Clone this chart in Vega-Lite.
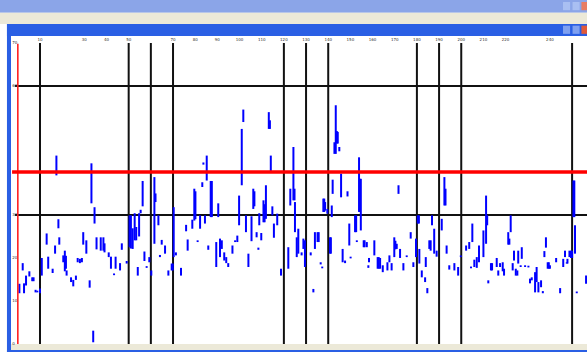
{
  "$schema": "https://vega.github.io/schema/vega-lite/v6.json",
  "width": 576,
  "height": 308,
  "autosize": {"type": "none"},
  "padding": {"left": 11, "top": 36, "right": 0, "bottom": 8},
  "background": "#ffffff",
  "config": {"view": {"stroke": null}},
  "datasets": {
    "markers": [{"x": 10}, {"x": 50}, {"x": 60}, {"x": 70}, {"x": 120}, {"x": 130}, {"x": 140}, {"x": 180}, {"x": 190}, {"x": 200}, {"x": 250}],
    "xticks": [{"v": 10}, {"v": 30}, {"v": 40}, {"v": 50}, {"v": 70}, {"v": 80}, {"v": 90}, {"v": 100}, {"v": 110}, {"v": 120}, {"v": 130}, {"v": 140}, {"v": 150}, {"v": 160}, {"v": 170}, {"v": 180}, {"v": 190}, {"v": 200}, {"v": 210}, {"v": 220}, {"v": 240}],
    "yticks": [{"v": 0}, {"v": 10}, {"v": 20}, {"v": 30}, {"v": 60}, {"v": 70}],
    "seg": [
      {"x":0.7,"hi":14.0,"lo":11.8},{"x":2.2,"hi":18.8,"lo":17.1},{"x":2.8,"hi":14.1,"lo":11.8},{"x":3.7,"hi":15.9,"lo":13.6},{"x":5.2,"hi":16.9,"lo":15.7},
      {"x":6.5,"hi":15.5,"lo":14.6},{"x":7.1,"hi":15.5,"lo":14.6},{"x":8.0,"hi":12.6,"lo":12.0},{"x":8.8,"hi":12.4,"lo":12.0},{"x":10.0,"hi":12.9,"lo":11.8},
      {"x":10.8,"hi":20.0,"lo":15.9},{"x":13.0,"hi":25.7,"lo":23.1},{"x":13.7,"hi":20.3,"lo":17.5},{"x":15.7,"hi":17.5,"lo":16.5},{"x":16.8,"hi":22.9,"lo":21.0},
      {"x":17.4,"hi":43.8,"lo":39.2},{"x":18.3,"hi":29.0,"lo":26.9},{"x":18.7,"hi":24.8,"lo":23.1},{"x":20.5,"hi":20.6,"lo":19.0},{"x":21.2,"hi":21.7,"lo":16.9},
      {"x":21.7,"hi":20.5,"lo":17.5},{"x":22.0,"hi":17.1,"lo":15.9},{"x":24.0,"hi":15.5,"lo":14.4},{"x":25.0,"hi":14.9,"lo":13.4},{"x":26.2,"hi":15.9,"lo":14.9},
      {"x":27.0,"hi":20.0,"lo":19.0},{"x":28.0,"hi":19.8,"lo":18.8},{"x":28.9,"hi":20.0,"lo":19.0},{"x":29.5,"hi":26.0,"lo":23.1},{"x":30.9,"hi":24.1,"lo":21.0},
      {"x":32.4,"hi":14.8,"lo":13.1},{"x":33.2,"hi":42.0,"lo":32.7},{"x":34.0,"hi":3.1,"lo":0.4},{"x":34.6,"hi":31.8,"lo":28.0},{"x":35.5,"hi":24.8,"lo":22.0},
      {"x":37.4,"hi":24.8,"lo":21.7},{"x":38.6,"hi":24.8,"lo":21.7},{"x":39.1,"hi":23.4,"lo":21.3},{"x":41.0,"hi":21.3,"lo":20.2},{"x":42.0,"hi":20.3,"lo":17.5},
      {"x":43.4,"hi":16.4,"lo":16.0},{"x":44.1,"hi":20.3,"lo":17.5},{"x":46.1,"hi":18.8,"lo":17.1},{"x":46.9,"hi":23.4,"lo":21.9},{"x":49.1,"hi":19.3,"lo":18.7},
      {"x":50.4,"hi":29.9,"lo":22.5},{"x":51.0,"hi":29.9,"lo":22.2},{"x":51.8,"hi":26.9,"lo":22.1},{"x":52.7,"hi":30.4,"lo":24.1},{"x":53.4,"hi":27.2,"lo":24.1},
      {"x":54.1,"hi":17.9,"lo":15.9},{"x":54.7,"hi":30.4,"lo":25.0},{"x":55.4,"hi":31.2,"lo":30.4},{"x":56.3,"hi":37.9,"lo":32.0},{"x":57.1,"hi":21.5,"lo":19.3},
      {"x":58.1,"hi":18.1,"lo":17.7},{"x":59.3,"hi":20.2,"lo":19.0},{"x":60.2,"hi":17.1,"lo":15.9},{"x":61.6,"hi":38.8,"lo":23.3},{"x":62.1,"hi":35.0,"lo":33.0},
      {"x":63.4,"hi":29.9,"lo":27.6},{"x":64.1,"hi":20.7,"lo":20.2},{"x":64.9,"hi":24.2,"lo":23.1},{"x":66.4,"hi":22.9,"lo":21.0},{"x":67.9,"hi":17.1,"lo":15.9},
      {"x":69.4,"hi":18.7,"lo":17.1},{"x":69.9,"hi":18.7,"lo":17.1},{"x":70.3,"hi":31.8,"lo":20.2},{"x":71.3,"hi":21.3,"lo":20.6},{"x":73.6,"hi":17.7,"lo":15.9},
      {"x":75.9,"hi":27.7,"lo":26.2},{"x":76.6,"hi":24.3,"lo":21.7},{"x":78.7,"hi":28.9,"lo":26.8},{"x":79.6,"hi":36.1,"lo":28.7},{"x":80.1,"hi":35.5,"lo":29.0},
      {"x":81.1,"hi":24.1,"lo":23.7},{"x":82.2,"hi":29.9,"lo":26.8},{"x":83.2,"hi":37.6,"lo":36.5},{"x":83.7,"hi":42.2,"lo":41.7},{"x":84.4,"hi":29.9,"lo":28.0},
      {"x":85.2,"hi":43.8,"lo":38.0},{"x":85.9,"hi":22.9,"lo":21.9},{"x":87.0,"hi":37.9,"lo":29.5},{"x":87.5,"hi":37.9,"lo":29.5},{"x":89.5,"hi":23.7,"lo":17.9},
      {"x":90.4,"hi":32.7,"lo":29.5},{"x":91.2,"hi":24.5,"lo":20.2},{"x":92.0,"hi":24.1,"lo":22.1},{"x":93.1,"hi":21.3,"lo":19.4},{"x":94.0,"hi":20.2,"lo":18.8},
      {"x":94.9,"hi":18.8,"lo":17.9},{"x":96.8,"hi":22.9,"lo":21.0},{"x":98.0,"hi":24.1,"lo":23.7},{"x":99.0,"hi":25.2,"lo":23.7},{"x":99.8,"hi":34.5,"lo":27.6},
      {"x":101.0,"hi":50.0,"lo":36.9},{"x":101.7,"hi":54.5,"lo":51.6},{"x":102.9,"hi":29.9,"lo":26.0},{"x":104.0,"hi":21.0,"lo":17.9},{"x":105.4,"hi":29.7,"lo":23.9},
      {"x":106.2,"hi":36.1,"lo":31.4},{"x":106.7,"hi":35.5,"lo":32.0},{"x":107.7,"hi":26.0,"lo":24.8},{"x":108.5,"hi":22.4,"lo":21.9},{"x":108.9,"hi":30.4,"lo":27.6},
      {"x":109.8,"hi":25.8,"lo":24.1},{"x":110.8,"hi":33.4,"lo":28.3},{"x":111.3,"hi":32.5,"lo":28.3},{"x":111.9,"hi":36.9,"lo":29.1},{"x":113.2,"hi":53.9,"lo":50.0},
      {"x":113.7,"hi":52.0,"lo":50.0},{"x":114.1,"hi":43.8,"lo":40.0},{"x":114.8,"hi":32.0,"lo":29.9},{"x":115.5,"hi":28.0,"lo":24.7},{"x":117.0,"hi":30.3,"lo":27.6},
      {"x":118.7,"hi":17.5,"lo":15.9},{"x":122.0,"hi":22.5,"lo":17.5},{"x":122.9,"hi":36.1,"lo":32.2},{"x":124.3,"hi":45.8,"lo":33.4},{"x":124.8,"hi":36.1,"lo":33.4},
      {"x":125.0,"hi":33.0,"lo":26.0},{"x":125.8,"hi":24.8,"lo":20.2},{"x":126.5,"hi":26.8,"lo":21.0},{"x":128.0,"hi":21.3,"lo":20.6},{"x":128.8,"hi":24.5,"lo":22.1},
      {"x":129.5,"hi":24.1,"lo":17.9},{"x":132.1,"hi":21.3,"lo":20.6},{"x":133.3,"hi":12.8,"lo":12.0},{"x":134.0,"hi":26.0,"lo":22.1},{"x":135.2,"hi":26.0,"lo":23.7},
      {"x":135.7,"hi":26.0,"lo":23.7},{"x":136.6,"hi":19.0,"lo":18.5},{"x":137.3,"hi":18.0,"lo":17.6},{"x":137.8,"hi":33.8,"lo":30.7},{"x":138.2,"hi":33.8,"lo":30.7},
      {"x":138.6,"hi":33.0,"lo":31.0},{"x":139.6,"hi":31.4,"lo":30.3},{"x":140.8,"hi":24.8,"lo":21.0},{"x":141.2,"hi":24.8,"lo":21.0},{"x":141.6,"hi":32.2,"lo":29.5},
      {"x":142.0,"hi":38.2,"lo":34.9},{"x":142.8,"hi":46.9,"lo":44.2},{"x":143.4,"hi":55.5,"lo":44.2},{"x":143.9,"hi":49.5,"lo":46.6},{"x":144.3,"hi":49.3,"lo":46.6},
      {"x":145.0,"hi":45.8,"lo":44.8},{"x":145.8,"hi":39.6,"lo":34.1},{"x":146.5,"hi":22.1,"lo":19.0},{"x":147.6,"hi":19.4,"lo":18.8},{"x":148.7,"hi":35.5,"lo":34.3},
      {"x":149.5,"hi":28.0,"lo":22.9},{"x":150.1,"hi":20.3,"lo":19.9},{"x":152.1,"hi":29.9,"lo":26.0},{"x":152.6,"hi":29.9,"lo":26.0},{"x":152.9,"hi":24.1,"lo":23.7},
      {"x":153.9,"hi":43.4,"lo":30.7},{"x":154.3,"hi":38.4,"lo":30.7},{"x":154.7,"hi":38.4,"lo":26.4},{"x":156.0,"hi":24.1,"lo":22.5},{"x":156.4,"hi":24.1,"lo":22.5},
      {"x":157.4,"hi":23.7,"lo":22.5},{"x":158.1,"hi":18.3,"lo":17.7},{"x":158.4,"hi":20.0,"lo":19.0},{"x":160.8,"hi":24.1,"lo":20.6},{"x":162.3,"hi":20.2,"lo":17.5},
      {"x":162.8,"hi":20.2,"lo":17.5},{"x":163.4,"hi":20.0,"lo":17.5},{"x":164.6,"hi":18.3,"lo":16.7},{"x":166.7,"hi":19.0,"lo":17.1},{"x":167.6,"hi":20.6,"lo":19.0},
      {"x":168.6,"hi":18.8,"lo":17.1},{"x":169.8,"hi":24.8,"lo":20.2},{"x":170.3,"hi":24.0,"lo":22.0},{"x":170.9,"hi":23.3,"lo":22.1},{"x":171.7,"hi":36.9,"lo":34.9},
      {"x":172.4,"hi":22.1,"lo":20.0},{"x":173.9,"hi":18.8,"lo":17.1},{"x":175.4,"hi":20.6,"lo":20.2},{"x":177.2,"hi":26.0,"lo":24.5},{"x":178.4,"hi":19.0,"lo":17.9},
      {"x":179.6,"hi":24.5,"lo":20.2},{"x":180.4,"hi":29.9,"lo":28.0},{"x":180.9,"hi":29.9,"lo":28.0},{"x":181.1,"hi":22.1,"lo":18.7},{"x":182.2,"hi":17.1,"lo":15.5},
      {"x":183.7,"hi":15.5,"lo":14.4},{"x":184.0,"hi":20.2,"lo":17.9},{"x":184.7,"hi":13.0,"lo":11.8},{"x":185.6,"hi":24.1,"lo":22.1},{"x":186.2,"hi":24.1,"lo":21.7},
      {"x":186.8,"hi":29.9,"lo":27.6},{"x":187.8,"hi":26.8,"lo":21.0},{"x":188.9,"hi":21.7,"lo":20.3},{"x":191.2,"hi":29.1,"lo":26.4},{"x":192.4,"hi":38.8,"lo":32.2},
      {"x":192.9,"hi":36.1,"lo":32.2},{"x":193.4,"hi":22.9,"lo":21.0},{"x":194.6,"hi":18.3,"lo":17.3},{"x":196.9,"hi":18.8,"lo":17.1},{"x":198.6,"hi":17.9,"lo":15.9},
      {"x":199.8,"hi":20.6,"lo":20.2},{"x":202.2,"hi":22.9,"lo":21.7},{"x":203.6,"hi":23.7,"lo":22.1},{"x":204.4,"hi":18.0,"lo":17.6},{"x":205.0,"hi":28.0,"lo":23.7},
      {"x":205.9,"hi":19.6,"lo":17.9},{"x":207.0,"hi":20.2,"lo":17.7},{"x":208.0,"hi":22.9,"lo":19.0},{"x":210.0,"hi":26.4,"lo":20.2},{"x":211.2,"hi":34.5,"lo":23.3},
      {"x":211.7,"hi":29.9,"lo":27.6},{"x":212.2,"hi":14.8,"lo":14.1},{"x":213.4,"hi":18.8,"lo":17.1},{"x":213.9,"hi":18.8,"lo":17.1},{"x":216.0,"hi":20.0,"lo":17.9},
      {"x":216.7,"hi":17.1,"lo":15.9},{"x":217.5,"hi":18.8,"lo":17.9},{"x":218.7,"hi":19.0,"lo":16.9},{"x":219.3,"hi":17.5,"lo":15.9},{"x":221.2,"hi":26.0,"lo":23.1},
      {"x":221.7,"hi":24.5,"lo":23.1},{"x":222.3,"hi":29.9,"lo":26.0},{"x":223.2,"hi":18.8,"lo":17.1},{"x":223.8,"hi":21.7,"lo":19.4},{"x":224.6,"hi":17.5,"lo":15.9},
      {"x":225.3,"hi":17.1,"lo":15.9},{"x":225.7,"hi":21.7,"lo":18.7},{"x":226.8,"hi":18.3,"lo":17.9},{"x":227.3,"hi":22.5,"lo":19.8},{"x":228.8,"hi":18.3,"lo":17.9},
      {"x":230.3,"hi":18.2,"lo":17.8},{"x":231.0,"hi":15.2,"lo":14.1},{"x":231.8,"hi":15.5,"lo":14.8},{"x":233.3,"hi":16.7,"lo":12.0},{"x":234.0,"hi":17.9,"lo":14.4},
      {"x":234.8,"hi":14.4,"lo":12.0},{"x":236.0,"hi":14.8,"lo":13.2},{"x":236.8,"hi":12.3,"lo":11.8},{"x":237.5,"hi":21.6,"lo":20.2},{"x":238.2,"hi":24.8,"lo":22.4},
      {"x":239.0,"hi":19.0,"lo":17.5},{"x":239.5,"hi":19.0,"lo":17.5},{"x":240.0,"hi":18.3,"lo":17.5},{"x":242.8,"hi":20.0,"lo":19.0},{"x":244.6,"hi":13.0,"lo":11.8},
      {"x":246.0,"hi":19.8,"lo":17.9},{"x":246.8,"hi":21.7,"lo":20.2},{"x":247.6,"hi":19.0,"lo":18.7},{"x":247.9,"hi":19.8,"lo":18.7},{"x":248.8,"hi":21.7,"lo":20.2},
      {"x":249.5,"hi":21.7,"lo":20.0},{"x":250.0,"hi":21.7,"lo":20.0},{"x":250.6,"hi":38.0,"lo":29.5},{"x":251.0,"hi":38.0,"lo":29.5},{"x":251.3,"hi":27.6,"lo":21.0},
      {"x":252.1,"hi":12.2,"lo":11.8},{"x":256.3,"hi":15.9,"lo":14.0}
    ]
  },
  "layer": [
    {"data": {"values": [{}]}, "mark": {"type": "rect", "fill": "#8ba5e8"},
     "encoding": {"x": {"datum": -8.1, "type": "quantitative", "scale": {"domain": [-3.08, 256.72], "nice": false, "zero": false}, "axis": null}, "x2": {"datum": 258},
                  "y": {"datum": 80.2, "type": "quantitative", "scale": {"domain": [0, 71.6], "nice": false, "zero": false}, "axis": null}, "y2": {"datum": 77.0}}},
    {"data": {"values": [{}]}, "mark": {"type": "rect", "fill": "#ece9d8"},
     "encoding": {"x": {"datum": -8.1, "type": "quantitative", "scale": {"domain": [-3.08, 256.72], "nice": false, "zero": false}, "axis": null}, "x2": {"datum": 258},
                  "y": {"datum": 77.0, "type": "quantitative", "scale": {"domain": [0, 71.6], "nice": false, "zero": false}, "axis": null}, "y2": {"datum": 74.4}}},
    {"data": {"values": [{}]}, "mark": {"type": "rect", "fill": "#2a5fe4"},
     "encoding": {"x": {"datum": -4.9, "type": "quantitative", "scale": {"domain": [-3.08, 256.72], "nice": false, "zero": false}, "axis": null}, "x2": {"datum": 258},
                  "y": {"datum": 74.4, "type": "quantitative", "scale": {"domain": [0, 71.6], "nice": false, "zero": false}, "axis": null}, "y2": {"datum": 71.6}}},
    {"data": {"values": [{}]}, "mark": {"type": "rect", "fill": "#2a5fe4"},
     "encoding": {"x": {"datum": -4.9, "type": "quantitative", "scale": {"domain": [-3.08, 256.72], "nice": false, "zero": false}, "axis": null}, "x2": {"datum": -3.08},
                  "y": {"datum": 74.4, "type": "quantitative", "scale": {"domain": [0, 71.6], "nice": false, "zero": false}, "axis": null}, "y2": {"datum": -1.9}}},
    {"data": {"values": [{}]}, "mark": {"type": "rect", "fill": "#ece9d8"},
     "encoding": {"x": {"datum": -3.08, "type": "quantitative", "scale": {"domain": [-3.08, 256.72], "nice": false, "zero": false}, "axis": null}, "x2": {"datum": 258},
                  "y": {"datum": 0, "type": "quantitative", "scale": {"domain": [0, 71.6], "nice": false, "zero": false}, "axis": null}, "y2": {"datum": -1.4}}},
    {"data": {"values": [{}]}, "mark": {"type": "rect", "fill": "#2a5fe4"},
     "encoding": {"x": {"datum": -4.9, "type": "quantitative", "scale": {"domain": [-3.08, 256.72], "nice": false, "zero": false}, "axis": null}, "x2": {"datum": 258},
                  "y": {"datum": -1.4, "type": "quantitative", "scale": {"domain": [0, 71.6], "nice": false, "zero": false}, "axis": null}, "y2": {"datum": -1.9}}},
    {"data": {"values": [{}]}, "mark": {"type": "rect", "fill": "#e05a3a"},
     "encoding": {"x": {"datum": 254.2, "type": "quantitative", "scale": {"domain": [-3.08, 256.72], "nice": false, "zero": false}, "axis": null}, "x2": {"datum": 257},
                  "y": {"datum": 74.0, "type": "quantitative", "scale": {"domain": [0, 71.6], "nice": false, "zero": false}, "axis": null}, "y2": {"datum": 72.1}}},
    {"data": {"values": [{}]}, "mark": {"type": "rect", "fill": "#7fa0f0"},
     "encoding": {"x": {"datum": 250.2, "type": "quantitative", "scale": {"domain": [-3.08, 256.72], "nice": false, "zero": false}, "axis": null}, "x2": {"datum": 253.4},
                  "y": {"datum": 74.0, "type": "quantitative", "scale": {"domain": [0, 71.6], "nice": false, "zero": false}, "axis": null}, "y2": {"datum": 72.1}}},
    {"data": {"values": [{}]}, "mark": {"type": "rect", "fill": "#7fa0f0"},
     "encoding": {"x": {"datum": 245.9, "type": "quantitative", "scale": {"domain": [-3.08, 256.72], "nice": false, "zero": false}, "axis": null}, "x2": {"datum": 249.1},
                  "y": {"datum": 74.0, "type": "quantitative", "scale": {"domain": [0, 71.6], "nice": false, "zero": false}, "axis": null}, "y2": {"datum": 72.1}}},
    {"data": {"values": [{}]}, "mark": {"type": "rect", "fill": "#e87d63"},
     "encoding": {"x": {"datum": 254.2, "type": "quantitative", "scale": {"domain": [-3.08, 256.72], "nice": false, "zero": false}, "axis": null}, "x2": {"datum": 257},
                  "y": {"datum": 79.5, "type": "quantitative", "scale": {"domain": [0, 71.6], "nice": false, "zero": false}, "axis": null}, "y2": {"datum": 77.6}}},
    {"data": {"values": [{}]}, "mark": {"type": "rect", "fill": "#a9bff2"},
     "encoding": {"x": {"datum": 250.2, "type": "quantitative", "scale": {"domain": [-3.08, 256.72], "nice": false, "zero": false}, "axis": null}, "x2": {"datum": 253.4},
                  "y": {"datum": 79.5, "type": "quantitative", "scale": {"domain": [0, 71.6], "nice": false, "zero": false}, "axis": null}, "y2": {"datum": 77.6}}},
    {"data": {"values": [{}]}, "mark": {"type": "rect", "fill": "#a9bff2"},
     "encoding": {"x": {"datum": 245.9, "type": "quantitative", "scale": {"domain": [-3.08, 256.72], "nice": false, "zero": false}, "axis": null}, "x2": {"datum": 249.1},
                  "y": {"datum": 79.5, "type": "quantitative", "scale": {"domain": [0, 71.6], "nice": false, "zero": false}, "axis": null}, "y2": {"datum": 77.6}}},
    {"data": {"values": [{"y": 30}, {"y": 60}]}, "mark": {"type": "rule", "color": "#111111", "strokeWidth": 2},
     "encoding": {"y": {"field": "y", "type": "quantitative", "scale": {"domain": [0, 71.6], "nice": false, "zero": false}, "axis": null},
                  "x": {"datum": -1.3, "type": "quantitative", "scale": {"domain": [-3.08, 256.72], "nice": false, "zero": false}, "axis": null}, "x2": {"datum": 256.72}}},
    {"data": {"name": "markers"}, "mark": {"type": "rule", "color": "#111111", "strokeWidth": 2},
     "encoding": {"x": {"field": "x", "type": "quantitative", "scale": {"domain": [-3.08, 256.72], "nice": false, "zero": false}, "axis": null},
                  "y": {"datum": 0, "type": "quantitative", "scale": {"domain": [0, 71.6], "nice": false, "zero": false}, "axis": null}, "y2": {"datum": 70}}},
    {"data": {"name": "xticks"}, "mark": {"type": "text", "fontSize": 4, "color": "#333333", "font": "DejaVu Sans", "baseline": "middle", "align": "center"},
     "encoding": {"x": {"field": "v", "type": "quantitative", "scale": {"domain": [-3.08, 256.72], "nice": false, "zero": false}, "axis": null},
                  "y": {"datum": 70.6, "type": "quantitative", "scale": {"domain": [0, 71.6], "nice": false, "zero": false}, "axis": null},
                  "text": {"field": "v", "type": "quantitative"}}},
    {"data": {"name": "yticks"}, "mark": {"type": "text", "fontSize": 4, "color": "#333333", "font": "DejaVu Sans", "baseline": "middle", "align": "left"},
     "encoding": {"y": {"field": "v", "type": "quantitative", "scale": {"domain": [0, 71.6], "nice": false, "zero": false}, "axis": null},
                  "x": {"datum": -2.5, "type": "quantitative", "scale": {"domain": [-3.08, 256.72], "nice": false, "zero": false}, "axis": null},
                  "text": {"field": "v", "type": "quantitative"}}},
    {"data": {"name": "seg"}, "mark": {"type": "rule", "color": "#0000ff", "strokeWidth": 2},
     "encoding": {
       "x": {"field": "x", "type": "quantitative", "scale": {"domain": [-3.08, 256.72], "nice": false, "zero": false}, "axis": null},
       "y": {"field": "hi", "type": "quantitative", "scale": {"domain": [0, 71.6], "nice": false, "zero": false}, "axis": null},
       "y2": {"field": "lo"}}},
    {"data": {"values": [{"x": 0}]}, "mark": {"type": "rule", "color": "#ff2020", "strokeWidth": 1.6},
     "encoding": {"x": {"field": "x", "type": "quantitative", "scale": {"domain": [-3.08, 256.72], "nice": false, "zero": false}, "axis": null},
                  "y": {"datum": 0, "type": "quantitative", "scale": {"domain": [0, 71.6], "nice": false, "zero": false}, "axis": null}, "y2": {"datum": 69.8}}},
    {"data": {"values": [{"y": 40}]}, "mark": {"type": "rule", "color": "#ff0000", "strokeWidth": 3.5},
     "encoding": {"y": {"field": "y", "type": "quantitative", "scale": {"domain": [0, 71.6], "nice": false, "zero": false}, "axis": null},
                  "x": {"datum": -2.6, "type": "quantitative", "scale": {"domain": [-3.08, 256.72], "nice": false, "zero": false}, "axis": null}, "x2": {"datum": 256.72}}}
  ]
}
